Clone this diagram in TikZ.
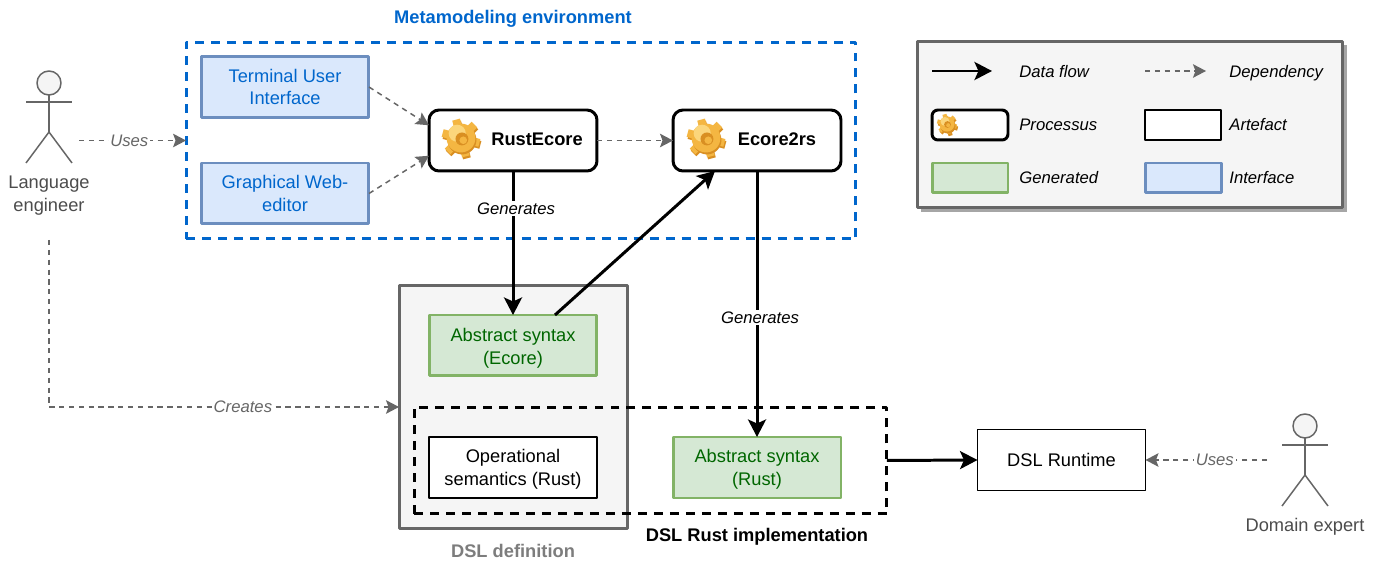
\documentclass[tikz,border=0pt]{standalone}
\usepackage{fontspec}
\setmainfont{Liberation Sans}
\usetikzlibrary{arrows.meta,positioning,calc,shadows}
\definecolor{myblue}{HTML}{0066CC}
\definecolor{mygreen}{HTML}{006600}
\definecolor{mygray}{HTML}{666666}
\definecolor{ifill}{HTML}{DAE8FC}
\definecolor{iline}{HTML}{6C8EBF}
\definecolor{gfill}{HTML}{D5E8D4}
\definecolor{gline}{HTML}{82B366}
\definecolor{lfill}{HTML}{F5F5F5}
\definecolor{geardark}{HTML}{D98F22}
\definecolor{gearmid}{HTML}{F4B642}
\definecolor{gearlight}{HTML}{FBD67C}
\tikzset{
  basefont/.style={font=\fontsize{10.4}{13}\selectfont},
  boldfont/.style={font=\fontsize{10.4}{13}\selectfont\bfseries},
  edgefont/.style={font=\fontsize{9.5}{12}\selectfont\itshape},
  boxbase/.style={basefont,align=center,outer sep=0pt,inner sep=0pt,minimum width=3.36cm,minimum height=1.22cm},
  interface/.style={boxbase,draw=iline,fill=ifill,line width=1.7pt,text=myblue},
  generated/.style={boxbase,draw=gline,fill=gfill,line width=1.7pt,text=mygreen},
  artefact/.style={boxbase,draw=black,fill=white,line width=0.85pt},
  processus/.style={boxbase,draw=black,fill=white,line width=1.7pt,rounded corners=0.2cm},
  flow/.style={-{Stealth[length=0.35cm,width=0.36cm,inset=0.08cm]},line width=1.7pt,black},
  depend/.style={-{Stealth[length=0.26cm,width=0.27cm,inset=0.05cm]},line width=0.85pt,mygray,dash pattern=on 3pt off 2.6pt},
  edgetext/.style={edgefont,fill=white,inner sep=1pt},
  usetext/.style={edgetext,text=mygray},
  legendtext/.style={edgefont,anchor=west,inner sep=0pt},
  actorline/.style={line width=0.85pt,mygray}
}
\newcommand \myactor[2]
{
\draw[actorline,fill=lfill] (#1,#2-19) circle (12);
\draw[actorline] (#1,#2-7)--(#1,#2+30);
\draw[actorline] (#1-23,#2)--(#1+23,#2);
\draw[actorline] (#1-23,#2+61)--(#1,#2+30)--(#1+23,#2+61);
}
\newcommand \mygear[3]
{
\foreach \a in {15,75,...,315}
{
\draw[geardark,line width=#3*0.42*0.567pt] (#1+1,#2+2)--++(\a:#3);
\draw[gearmid,line width=#3*0.42*0.567pt] (#1,#2)--++(\a:#3);
}
\fill[geardark] (#1+1,#2+2) circle (#3*0.76);
\fill[gearmid] (#1,#2) circle (#3*0.76);
\fill[gearlight] (#1-#3*0.2,#2-#3*0.25) circle (#3*0.45);
\fill[geardark] (#1+#3*0.05,#2+#3*0.05) circle (#3*0.34);
\fill[gearmid] (#1+#3*0.12,#2+#3*0.12) circle (#3*0.2);
}
\newcommand \mylow[1]{\rule{0pt}{#1}}
\begin{document}
\begin{tikzpicture}[x=0.02cm,y=-0.02cm,line join=round]
\useasboundingbox (0,0) rectangle (1379,563);
\node[boldfont,text=myblue] (metaTitle) at (513,19) {Metamodeling environment};
\node[draw=myblue,line width=1.7pt,dash pattern=on 5.1pt off 4pt,minimum width=13.4cm,minimum height=3.94cm,outer sep=0pt] (metaEnv) at (521,140.5) {};
\node[interface] (term) at (285,87) {Terminal User\\Interface};
\node[interface] (web) at (285,193.5) {Graphical Web-\\editor};
\node[processus] (rust) at (513,140.5) {};
\node[processus] (e2rs) at (757,140.5) {};
\node[boldfont] (rustText) at (537,139) {RustEcore};
\node[boldfont] (e2rsText) at (777,139) {Ecore2rs};
\mygear{461}{138}{19}
\mygear{706}{138}{19}
\node[draw=mygray,fill=lfill,line width=1.7pt,minimum width=4.58cm,minimum height=4.88cm,outer sep=0pt] (dslDef) at (513.5,407) {};
\node[generated] (absE) at (513,345.5) {\mylow{10.8pt}Abstract syntax\\(Ecore)};
\node[artefact] (oper) at (513,467.5) {\mylow{9.7pt}Operational\\semantics (Rust)};
\node[generated] (absR) at (757,467.5) {\mylow{9.7pt}Abstract syntax\\(Rust)};
\node[draw=black,line width=1.7pt,dash pattern=on 5.1pt off 4pt,minimum width=9.46cm,minimum height=2.14cm,outer sep=0pt] (dslImpl) at (650.5,460.5) {};
\node[artefact] (runtime) at (1061.5,460) {DSL Runtime};
\node[boldfont,text=mygray!85] (defTitle) at (513,551) {DSL definition};
\node[boldfont] (implTitle) at (757,537) {DSL Rust implementation};
\myactor{49}{102}
\myactor{1305}{445}
\node[basefont,align=center,text=black!70] (engineer) at (49,196) {Language\\engineer};
\node[basefont,text=black!70] (expert) at (1305,527) {Domain expert};
\coordinate (usesA) at (79,140.5);
\coordinate (creaA) at (49,240);
\coordinate (usesB) at (1267,460);
\draw[depend] (usesA)--(metaEnv.west) node[usetext,pos=0.47] {Uses};
\draw[depend] (term.east)--($(rust.north west)!0.25!(rust.south west)$);
\draw[depend] (web.east)--($(rust.north west)!0.75!(rust.south west)$);
\draw[depend] (rust.east)--(e2rs.west);
\draw[depend] (creaA)|-(dslDef.west) node[usetext,pos=0.777] {Creates};
\draw[depend] (usesB)--(runtime.east) node[usetext,pos=0.43] {Uses};
\draw[flow] (rust.south)--(absE.north) node[edgetext,pos=0.26,xshift=0.06cm] {Generates};
\draw[flow] ($(absE.north west)!0.75!(absE.north east)$)--($(e2rs.south west)!0.25!(e2rs.south east)$);
\draw[flow] (e2rs.south)--(absR.north) node[edgetext,pos=0.55,xshift=0.06cm] {Generates};
\draw[flow] (dslImpl.east)--(runtime.west);
\node[draw=mygray,fill=lfill,line width=1.7pt,minimum width=8.52cm,minimum height=3.34cm,outer sep=0pt,drop shadow={shadow xshift=0.08cm,shadow yshift=-0.08cm,opacity=0.7,fill=black!50}] (legend) at (1130,124.5) {};
\coordinate (flowA) at (932,71);
\coordinate (flowB) at (992,71);
\coordinate (depA) at (1145,71);
\coordinate (depB) at (1206,71);
\draw[flow] (flowA)--(flowB);
\draw[depend] (depA)--(depB);
\node[legendtext,anchor=base west] (flowText) at (1019,78) {Data flow};
\node[legendtext,anchor=base west] (depText) at (1229,78) {Dependency};
\node[processus,minimum width=1.52cm,minimum height=0.6cm,rounded corners=0.12cm] (lgProc) at (970,125) {};
\mygear{947}{124}{10}
\node[artefact,minimum width=1.52cm,minimum height=0.6cm] (lgArt) at (1183,125) {};
\node[generated,minimum width=1.52cm,minimum height=0.6cm] (lgGen) at (970,178) {};
\node[interface,minimum width=1.52cm,minimum height=0.6cm] (lgInt) at (1183,178) {};
\node[legendtext,anchor=base west] (procText) at (1019,131) {Processus};
\node[legendtext,anchor=base west] (artText) at (1229,131) {Artefact};
\node[legendtext,anchor=base west] (genText) at (1019,184) {Generated};
\node[legendtext,anchor=base west] (intText) at (1229,184) {Interface};
\end{tikzpicture}
\end{document}
